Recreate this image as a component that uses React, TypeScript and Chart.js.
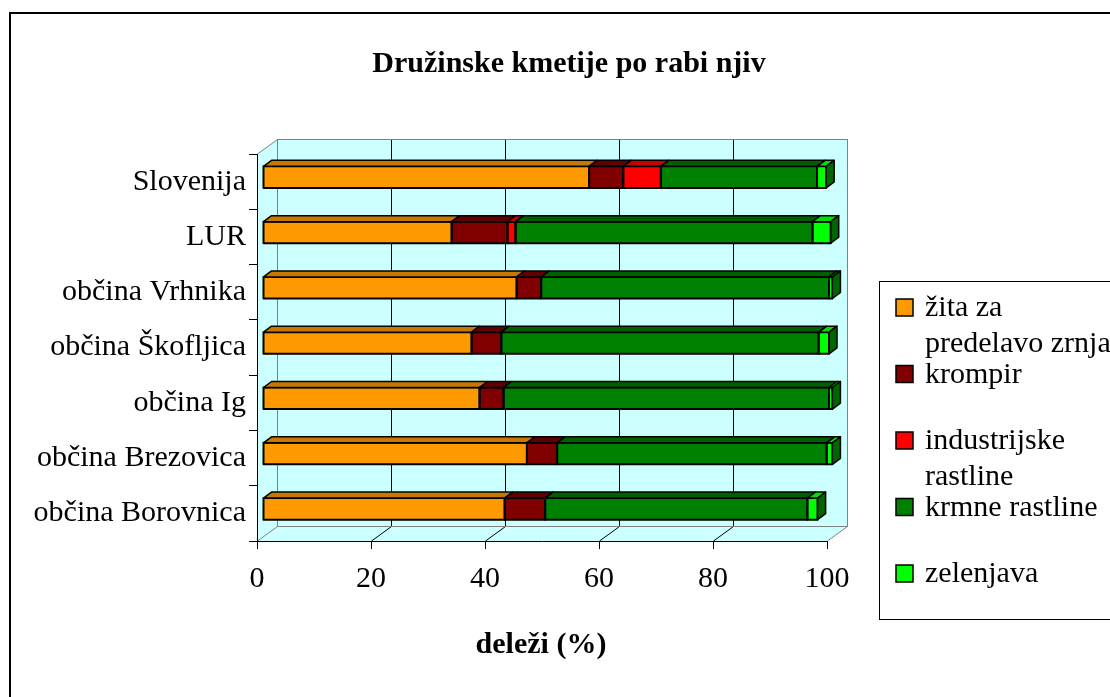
import React, { useEffect, useRef } from 'react';
import { Chart, registerables } from 'chart.js';

Chart.register(...registerables);

// ---------- data ----------
const categories = [
  'Slovenija',
  'LUR',
  'občina Vrhnika',
  'občina Škofljica',
  'občina Ig',
  'občina Brezovica',
  'občina Borovnica',
];
const seriesNames = [
  'žita za predelavo zrnja',
  'krompir',
  'industrijske rastline',
  'krmne rastline',
  'zelenjava',
];
const legendLines = [
  ['žita za', 'predelavo zrnja'],
  ['krompir'],
  ['industrijske', 'rastline'],
  ['krmne rastline'],
  ['zelenjava'],
];
const zitaValues = [57.2, 33.1, 44.5, 36.6, 38.0, 46.3, 42.4];
const krompirValues = [6.0, 9.8, 4.3, 5.2, 4.2, 5.3, 7.1];
const industrijskeValues = [6.6, 1.4, 0, 0, 0, 0, 0];
const krmneValues = [27.4, 52.1, 50.5, 55.7, 57.1, 47.3, 46.0];
const zelenjavaValues = [1.6, 3.2, 0.6, 1.8, 0.6, 1.0, 1.8];
const xTicks = [0, 20, 40, 60, 80, 100];
const titleText = 'Družinske kmetije po rabi njiv';
const xTitleText = 'deleži (%)';

// ---------- styles ----------
const FONT = "'Liberation Serif', 'Times New Roman', serif";
const frontColors = ['#FF9900', '#800000', '#FF0000', '#008000', '#00FF00'];
const topColors = ['#C87800', '#600000', '#C80000', '#006000', '#00E000'];
const sideColors = ['#996600', '#4D0000', '#990000', '#004D00', '#006600'];
const WALL = '#CCFFFF';
const DX = 20;
const DY = 14.5;
const BX = 6;
const BY = 4.5;
const TX = 8;
const TY = 6;

function poly(ctx: CanvasRenderingContext2D, pts: number[][]) {
  ctx.beginPath();
  ctx.moveTo(pts[0][0], pts[0][1]);
  for (let i = 1; i < pts.length; i++) ctx.lineTo(pts[i][0], pts[i][1]);
  ctx.closePath();
}

const scenePlugin = {
  id: 'scene3d',
  beforeDraw(chart: any) {
    const ctx: CanvasRenderingContext2D = chart.ctx;
    const a = chart.chartArea;
    const xs = chart.scales.x;
    const L = a.left, R = a.right, T = a.top, B = a.bottom;
    ctx.save();
    ctx.fillStyle = '#fff';
    ctx.fillRect(0, 0, chart.width, chart.height);
    ctx.strokeStyle = '#000';
    ctx.lineWidth = 2;
    ctx.strokeRect(10, 13, chart.width + 20, chart.height + 20);

    ctx.fillStyle = WALL;
    ctx.fillRect(L + DX, T - DY, R - L, B - T);
    poly(ctx, [[L, T], [L + DX, T - DY], [L + DX, B - DY], [L, B]]);
    ctx.fill();
    poly(ctx, [[L, B], [L + DX, B - DY], [R + DX, B - DY], [R, B]]);
    ctx.fill();

    ctx.lineWidth = 1;
    xTicks.forEach((v) => {
      const px = Math.round(xs.getPixelForValue(v)) + 0.5;
      const edge = v === xTicks[0] || v === xTicks[xTicks.length - 1];
      ctx.strokeStyle = edge ? '#808080' : '#000';
      ctx.beginPath();
      ctx.moveTo(px + DX, T - DY);
      ctx.lineTo(px + DX, B - DY);
      ctx.stroke();
      ctx.beginPath();
      ctx.moveTo(px, B);
      ctx.lineTo(px + DX, B - DY);
      ctx.stroke();
    });
    ctx.strokeStyle = '#808080';
    ctx.strokeRect(L + DX + 0.5, T - DY, R - L, B - T);
    ctx.beginPath();
    ctx.moveTo(L + 0.5, T);
    ctx.lineTo(L + DX + 0.5, T - DY);
    ctx.stroke();
    ctx.restore();
  },
  beforeDatasetsDraw(chart: any) {
    chart.ctx.save();
    chart.ctx.translate(BX, -BY);
  },
  afterDatasetsDraw(chart: any) {
    const ctx: CanvasRenderingContext2D = chart.ctx;
    const n = chart.data.labels.length;
    const nds = chart.data.datasets.length;
    ctx.lineJoin = 'round';
    for (let i = 0; i < n; i++) {
      let last = -1;
      for (let d = 0; d < nds; d++) {
        if ((chart.data.datasets[d].data[i] || 0) > 0) last = d;
      }
      for (let d = 0; d < nds; d++) {
        const el = chart.getDatasetMeta(d).data[i];
        if (!el) continue;
        const p = el.getProps(['x', 'y', 'base', 'height'], true);
        const l = Math.min(p.base, p.x);
        const r = Math.max(p.base, p.x);
        if (r - l < 0.01) continue;
        const t = p.y - p.height / 2;
        const b = p.y + p.height / 2;
        ctx.strokeStyle = '#000';
        ctx.lineWidth = 2;
        ctx.strokeRect(l, t, r - l, b - t);
        poly(ctx, [[l, t], [r, t], [r + TX, t - TY], [l + TX, t - TY]]);
        ctx.fillStyle = topColors[d];
        ctx.fill();
        ctx.lineWidth = 1.5;
        ctx.stroke();
        if (d === last) {
          poly(ctx, [[r, t], [r + TX, t - TY], [r + TX, b - TY], [r, b]]);
          ctx.fillStyle = sideColors[d];
          ctx.fill();
          ctx.stroke();
        }
      }
    }
    ctx.restore();
  },
  afterDraw(chart: any) {
    const ctx: CanvasRenderingContext2D = chart.ctx;
    ctx.save();
    ctx.fillStyle = '#000';
    ctx.textBaseline = 'alphabetic';
    ctx.textAlign = 'center';
    ctx.font = `bold 30px ${FONT}`;
    ctx.fillText(titleText, 569, 72);
    ctx.fillText(xTitleText, 541, 653);

    // legend
    ctx.strokeStyle = '#000';
    ctx.lineWidth = 1;
    ctx.strokeRect(879.5, 281.5, 400, 338);
    ctx.font = `30px ${FONT}`;
    ctx.textAlign = 'left';
    legendLines.forEach((lines, k) => {
      const base = 316 + 66.5 * k;
      ctx.fillStyle = frontColors[k];
      ctx.fillRect(896, base - 17, 17, 17);
      ctx.lineWidth = 1.5;
      ctx.strokeStyle = '#000';
      ctx.strokeRect(896, base - 17, 17, 17);
      ctx.fillStyle = '#000';
      lines.forEach((ln, j) => ctx.fillText(ln, 925, base + 36 * j));
    });
    ctx.restore();
  },
};

const seriesValues = [zitaValues, krompirValues, industrijskeValues, krmneValues, zelenjavaValues];

export default function App() {
  const ref = useRef<HTMLCanvasElement>(null);
  useEffect(() => {
    const chart = new Chart(ref.current as HTMLCanvasElement, {
      type: 'bar',
      data: {
        labels: categories,
        datasets: seriesValues.map((vals, k) => ({
          label: seriesNames[k],
          data: vals,
          backgroundColor: frontColors[k],
          borderWidth: 0,
          clip: false as any,
          barPercentage: 0.39,
          categoryPercentage: 1,
        })),
      },
      options: {
        indexAxis: 'y',
        animation: false,
        responsive: false,
        maintainAspectRatio: false,
        events: [],
        layout: { padding: { left: 0, right: 283, top: 154, bottom: 0 } },
        plugins: {
          legend: { display: false },
          tooltip: { enabled: false },
          title: { display: false },
        },
        scales: {
          x: {
            type: 'linear',
            stacked: true,
            min: 0,
            max: 100,
            ticks: {
              stepSize: 20,
              maxRotation: 0,
              autoSkip: false,
              padding: 12,
              color: '#000',
              font: { size: 30, family: FONT },
            },
            grid: { drawOnChartArea: false, drawTicks: true, tickLength: 8, color: '#000' },
            border: { display: true, color: '#000', width: 1 },
            afterFit(s: any) {
              s.height = 156;
            },
          },
          y: {
            type: 'category',
            stacked: true,
            ticks: {
              padding: 3,
              color: '#000',
              autoSkip: false,
              font: { size: 30, family: FONT },
            },
            grid: { drawOnChartArea: false, drawTicks: true, tickLength: 8, color: '#000', offset: true },
            border: { display: true, color: '#000', width: 1 },
            afterFit(s: any) {
              s.width = 257;
            },
          },
        },
      } as any,
      plugins: [scenePlugin],
    });
    return () => chart.destroy();
  }, []);
  return (
    <div style={{ position: 'absolute', left: 0, top: 0, width: 1110, height: 697, background: '#fff' }}>
      <canvas ref={ref} width={1110} height={697} style={{ display: 'block', width: 1110, height: 697 }} />
    </div>
  );
}
